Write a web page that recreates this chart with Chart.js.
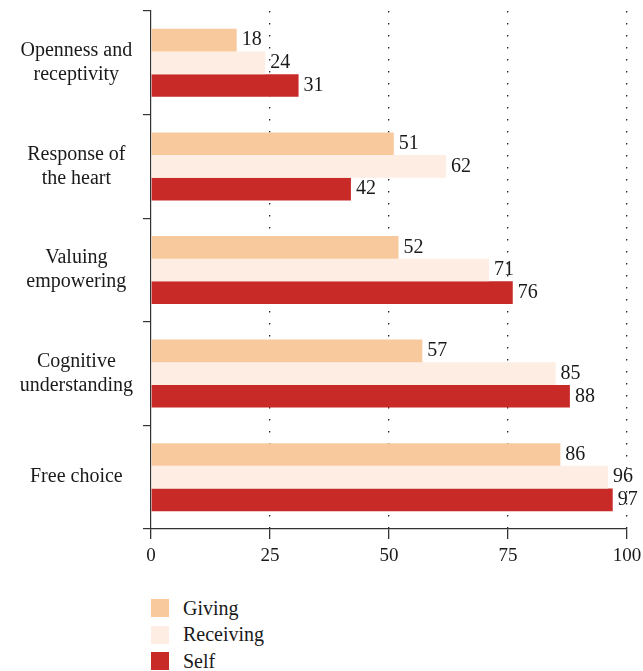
<!DOCTYPE html>
<html lang="en">
<head>
<meta charset="UTF-8">
<title>Horizontal bars</title>
<script src="https://cdn.jsdelivr.net/npm/chart.js"></script>
<style>
  body { margin: 0; background: #fff; font-family: "Liberation Serif", serif; color: #1a1a1a; }
  .wrap { position: relative; width: 643px; height: 572px; }
  .legend { margin: 23px 0 0 151px; }
  .legend-row { display: flex; align-items: center; height: 26.5px; font-size: 20px; }
  .legend-row span.box { width: 18px; height: 18px; margin-right: 14px; display: inline-block; }
</style>
</head>
<body>
<div class="wrap"><canvas id="chart"></canvas></div>
<div class="legend" id="legend"></div>
<script>
  const categories = [
    ['Openness and', 'receptivity'],
    ['Response of', 'the heart'],
    ['Valuing', 'empowering'],
    ['Cognitive', 'understanding'],
    'Free choice'
  ];
  const giving = [18, 51, 52, 57, 86];
  const receiving = [24, 62, 71, 85, 96];
  const self = [31, 42, 76, 88, 97];
  const xTicks = [0, 25, 50, 75, 100];

  // value labels at bar ends
  const valueLabels = {
    id: 'valueLabels',
    afterDatasetsDraw(chart) {
      const ctx = chart.ctx;
      ctx.save();
      ctx.font = '20px "Liberation Serif"';
      ctx.fillStyle = '#1a1a1a';
      ctx.textBaseline = 'middle';
      chart.data.datasets.forEach((ds, i) => {
        chart.getDatasetMeta(i).data.forEach((bar, j) => {
          ctx.fillText(ds.data[j], bar.x + 5, bar.y);
        });
      });
      ctx.restore();
    }
  };

  const chart = new Chart(document.getElementById('chart'), {
    type: 'bar',
    data: {
      labels: categories,
      datasets: [
        { label: 'Giving', data: giving, backgroundColor: '#F8C99C' },
        { label: 'Receiving', data: receiving, backgroundColor: '#FDEDE2' },
        { label: 'Self', data: self, backgroundColor: '#C82A28' }
      ]
    },
    options: {
      indexAxis: 'y',
      responsive: true,
      maintainAspectRatio: false,
      animation: false,
      layout: { padding: { top: 11, right: 16, left: 0, bottom: 0 } },
      datasets: { bar: { categoryPercentage: 0.656, barPercentage: 1 } },
      plugins: { legend: { display: false }, tooltip: { enabled: false } },
      scales: {
        x: {
          min: 0, max: 100,
          afterBuildTicks: s => { s.ticks = xTicks.map(v => ({ value: v })); },
          afterFit: s => { s.height = 43; s.paddingLeft = 0; s.paddingRight = 0; },
          grid: {
            color: ctx => ctx.tick && ctx.tick.value === 0 ? 'rgba(0,0,0,0)' : '#222',
            lineWidth: 1.3,
            tickColor: '#333',
            tickLength: 10,
            tickBorderDash: []
          },
          border: { display: true, color: '#333', width: 1.2, dash: [1.5, 10.5] },
          ticks: { color: '#1a1a1a', font: { family: 'Liberation Serif', size: 19 }, padding: 6 }
        },
        y: {
          afterFit: s => { s.width = 151; s.paddingTop = 0; s.paddingBottom = 0; },
          grid: { drawOnChartArea: false, drawTicks: true, tickLength: 8, tickColor: '#333', lineWidth: 1.2 },
          border: { display: true, color: '#333', width: 1.2 },
          ticks: { color: '#1a1a1a', crossAlign: 'center', padding: 10, font: { family: 'Liberation Serif', size: 20, lineHeight: 1.2 } }
        }
      }
    },
    plugins: [valueLabels]
  });

  document.getElementById('legend').innerHTML = chart.data.datasets.map(ds =>
    `<div class="legend-row"><span class="box" style="background:${ds.backgroundColor}"></span>${ds.label}</div>`
  ).join('');
</script>
</body>
</html>
